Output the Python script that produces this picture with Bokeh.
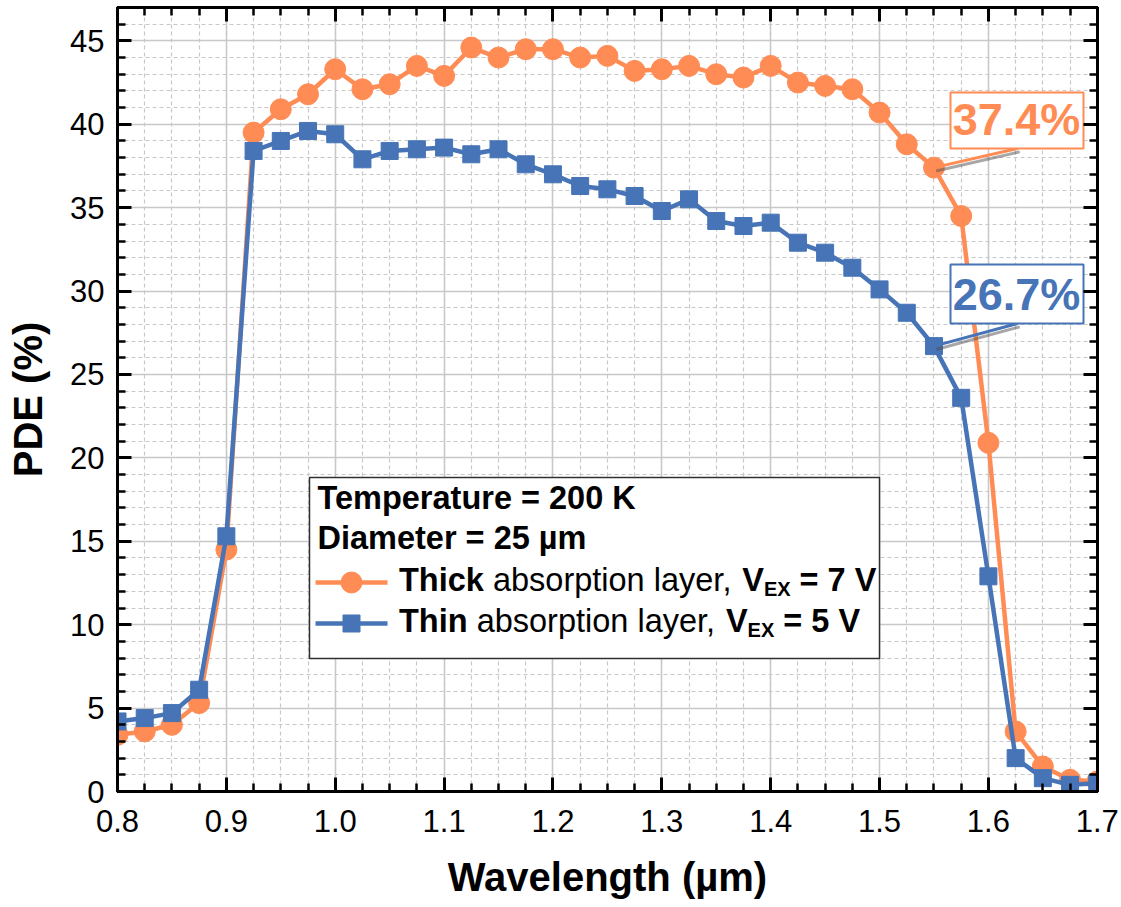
from bokeh.plotting import figure
from bokeh.models import LinearAxis, SingleIntervalTicker, PrintfTickFormatter, CustomJSTickFormatter
from bokeh.core.properties import value
from bokeh.embed import file_html
from bokeh.resources import INLINE

# ---------------- data ----------------
wavelength = [0.8, 0.825, 0.85, 0.875, 0.9, 0.925, 0.95, 0.975, 1.0, 1.025, 1.05, 1.075,
              1.1, 1.125, 1.15, 1.175, 1.2, 1.225, 1.25, 1.275, 1.3, 1.325, 1.35, 1.375,
              1.4, 1.425, 1.45, 1.475, 1.5, 1.525, 1.55, 1.575, 1.6, 1.625, 1.65, 1.675, 1.7]
pde_thick = [3.4, 3.6, 4.0, 5.3, 14.5, 39.5, 40.9, 41.8, 43.3, 42.1, 42.4, 43.5,
             42.9, 44.6, 44.0, 44.5, 44.5, 44.0, 44.1, 43.2, 43.3, 43.5, 43.0, 42.8,
             43.5, 42.5, 42.3, 42.1, 40.7, 38.8, 37.4, 34.5, 20.9, 3.6, 1.5, 0.7, 0.6]
pde_thin = [4.2, 4.4, 4.7, 6.1, 15.3, 38.4, 39.0, 39.6, 39.4, 37.9, 38.4, 38.5,
            38.6, 38.2, 38.5, 37.6, 37.0, 36.3, 36.1, 35.7, 34.8, 35.5, 34.2, 33.9,
            34.1, 32.9, 32.3, 31.4, 30.1, 28.7, 26.7, 23.6, 12.9, 2.0, 0.8, 0.4, 0.5]
callout_x = 1.55
callout_thick = 37.4
callout_thin = 26.7
legend_title_lines = ["Temperature = 200 K", "Diameter = 25 \u00b5m"]
series_bold = ["Thick", "Thin"]
series_volt = ["7 V", "5 V"]

ORANGE = "#FF8C55"
BLUE = "#4674B6"
FONT = "Liberation Sans"

X0, X1, Y0, Y1 = 0.8, 1.7002, 0.0, 47.0
W, H = 1121, 907
L, R, T, B = 117, 1097, 7, 791
TXT_SHIFT = 14  # px correction for text baseline placement


def px2x(px):
    return X0 + (px - L) / (R - L) * (X1 - X0)


def px2y(py):
    return Y0 + (B - py) / (B - T) * (Y1 - Y0)


def tpy(py):
    return px2y(py - TXT_SHIFT)


# Arial / Liberation Sans advance widths (per 1000 em)
REG = {' ': 278, 'a': 556, 'b': 556, 's': 500, 'o': 556, 'r': 333, 'p': 556, 't': 278,
       'i': 222, 'n': 556, 'l': 222, 'y': 500, 'e': 556, ',': 278}
BOLD = {'T': 611, 'h': 611, 'i': 278, 'c': 556, 'k': 556, 'n': 611, 'V': 667, 'E': 667,
        'X': 667, ' ': 278, '=': 584}


def tw(s, table, size):
    return sum(table[c] for c in s) / 1000.0 * size


p = figure(width=W, height=H, x_range=(X0, X1), y_range=(Y0, Y1),
           output_backend="svg", toolbar_location=None,
           min_border_left=L, min_border_right=W - R, min_border_top=T,
           min_border_bottom=H - B, background_fill_color="white",
           border_fill_color="white")
p.outline_line_color = "black"
p.outline_line_width = 3

bottom_ax = p.below[0]
left_ax = p.left[0]

xt = SingleIntervalTicker(interval=0.1, num_minor_ticks=4)
yt = SingleIntervalTicker(interval=5, num_minor_ticks=5)
bottom_ax.ticker = xt
left_ax.ticker = yt
bottom_ax.formatter = PrintfTickFormatter(format="%.1f")
p.xgrid.ticker = xt
p.ygrid.ticker = yt

for g in (p.xgrid, p.ygrid):
    g.grid_line_color = "#C8C8C8"
    g.grid_line_width = 1.5
    g.minor_grid_line_color = "#C8C8C8"
    g.minor_grid_line_width = 1.2
    g.minor_grid_line_dash = "4 3"

blank = CustomJSTickFormatter(code="return '';")
top_ax = LinearAxis(ticker=xt, formatter=blank)
right_ax = LinearAxis(ticker=yt, formatter=blank)
p.add_layout(top_ax, "above")
p.add_layout(right_ax, "right")

for ax in (bottom_ax, left_ax, top_ax, right_ax):
    ax.axis_line_width = 3
    ax.axis_line_color = "black"
    ax.major_tick_in = 14
    ax.major_tick_out = 0
    ax.minor_tick_in = 8
    ax.minor_tick_out = 0
    ax.major_tick_line_width = 3
    ax.minor_tick_line_width = 2.5
    ax.major_tick_line_color = "black"
    ax.minor_tick_line_color = "black"
    ax.major_label_text_font = FONT
    ax.major_label_text_font_size = "31px"
    ax.major_label_text_color = "black"

for ax in (top_ax, right_ax):
    ax.major_label_standoff = 0

bottom_ax.major_label_standoff = 18
left_ax.major_label_standoff = 13

bottom_ax.axis_label = "Wavelength (\u00b5m)"
left_ax.axis_label = "PDE (%)"
for ax in (bottom_ax, left_ax):
    ax.axis_label_text_font = FONT
    ax.axis_label_text_font_size = "40px"
    ax.axis_label_text_font_style = "bold"
    ax.axis_label_text_color = "black"
bottom_ax.axis_label_standoff = 20
left_ax.axis_label_standoff = 17

# ---------------- data series ----------------
p.line(wavelength, pde_thick, line_color=ORANGE, line_width=4.5)
p.scatter(wavelength, pde_thick, marker="circle", size=21, fill_color=ORANGE,
          line_color=ORANGE)
p.line(wavelength, pde_thin, line_color=BLUE, line_width=4.5)
p.scatter(wavelength, pde_thin, marker="square", size=17, fill_color=BLUE,
          line_color=BLUE)

# ---------------- callouts ----------------
bx0, bx1 = px2x(950), px2x(1083)
ex = px2x(1017)
for yv, top_px, bot_px, base_px, col, label in [
        (callout_thick, 92, 148, 133, ORANGE, f"{callout_thick}%"),
        (callout_thin, 264, 323, 308, BLUE, f"{callout_thin}%")]:
    p.line([callout_x + 0.002, ex + 0.002], [yv - 0.2, px2y(bot_px) - 0.2],
           line_color="#505050", line_alpha=0.5, line_width=3)
    p.line([callout_x, ex], [yv, px2y(bot_px)], line_color=col, line_width=3)
    p.quad(left=bx0, right=bx1, bottom=px2y(bot_px), top=px2y(top_px),
           fill_color="white", line_color=col, line_width=2)
    p.text(x=[px2x(1016)], y=[tpy(base_px)], text=[label], text_color=col,
           text_font=value(FONT), text_font_style="bold", text_font_size="45px",
           text_align="center", text_baseline="alphabetic")

# ---------------- legend ----------------
p.quad(left=px2x(309), right=px2x(879), bottom=px2y(658), top=px2y(477),
       fill_color="white", line_color="#303030", line_width=1.5)

FS, SS = 32.5, 20

for txt, base in zip(legend_title_lines, [511, 551]):
    p.text(x=[px2x(317)], y=[tpy(base)], text=[txt], text_color="black",
           text_font=value(FONT), text_font_style="bold", text_font_size=f"{FS}px",
           text_align="left", text_baseline="alphabetic")


def put(s, xp, y, style, size):
    p.text(x=[px2x(xp)], y=[y], text=[s], text_color="black",
           text_font=value(FONT), text_font_style=style,
           text_font_size=f"{size}px", text_align="left",
           text_baseline="alphabetic")


for bold_word, volt, col, mk, msz, base in zip(
        series_bold, series_volt, [ORANGE, BLUE], ["circle", "square"], [21, 17],
        [593, 634]):
    cy = px2y(base - 11)
    p.line([px2x(315), px2x(387)], [cy, cy], line_color=col, line_width=4.5)
    p.scatter([px2x(351)], [cy], marker=mk, size=msz, fill_color=col, line_color=col)
    xpx = 398.5
    by = tpy(base)
    put(bold_word, xpx, by, "bold", FS)
    xpx += tw(bold_word, BOLD, FS) + tw(" ", REG, FS)
    mid = "absorption layer,"
    put(mid, xpx, by, "normal", FS)
    xpx += tw(mid, REG, FS) + tw(" ", REG, FS)
    put("V", xpx, by, "bold", FS)
    xpx += tw("V", BOLD, FS)
    put("EX", xpx, tpy(base + 9), "bold", SS)
    xpx += tw("EX", BOLD, SS) + tw(" ", BOLD, FS)
    put("= " + volt, xpx, by, "bold", FS)

open("out.html", "w").write(file_html(p, INLINE))
